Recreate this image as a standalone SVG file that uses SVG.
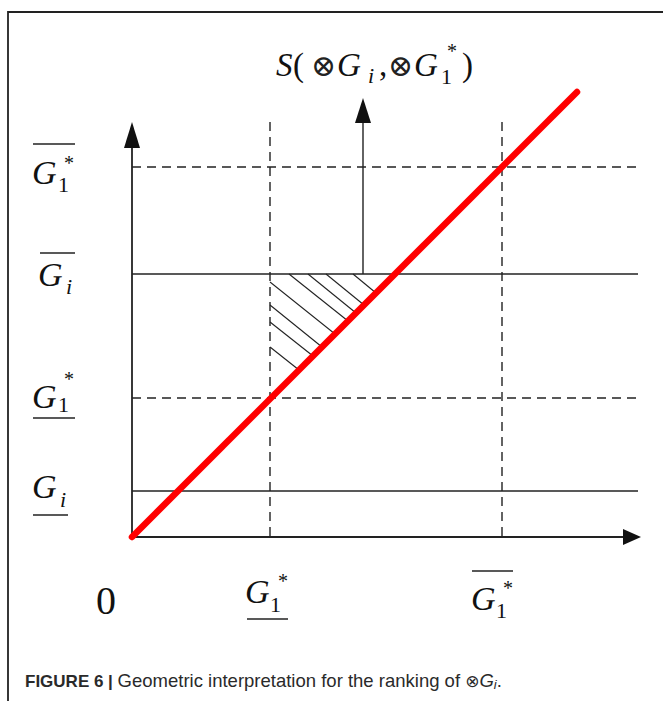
<svg xmlns="http://www.w3.org/2000/svg" width="663" height="701" viewBox="0 0 663 701">
<style>
.ln{stroke:#222;stroke-width:1.4;fill:none}
.ax{stroke:#222;stroke-width:1.8;fill:none}
.ds{stroke:#222;stroke-width:1.4;fill:none;stroke-dasharray:9 6}
.hl{stroke:#222;stroke-width:1.1;fill:none}
.ah{fill:#111;stroke:none}
.mt{font-family:"Liberation Serif","DejaVu Serif",serif;fill:#111}
.it{font-style:italic}
.op{font-family:"DejaVu Serif","Liberation Serif",serif;fill:#222}
.cap{font-family:"Liberation Sans",Arial,sans-serif;font-size:18.5px;fill:#2a2a2a}
</style>
<rect width="663" height="701" fill="#fff"/>
<g id="frame"><path d="M8,701 V12 H663" class="ax" stroke-width="1.6"/></g>
<g id="grid">
<line class="ds" x1="132" y1="167" x2="638" y2="167"/>
<line class="ln" x1="132" y1="274" x2="638" y2="274"/>
<line class="ds" x1="132" y1="398" x2="638" y2="398"/>
<line class="ln" x1="132" y1="491" x2="638" y2="491"/>
<line class="ds" x1="270" y1="122" x2="270" y2="537"/>
<line class="ds" x1="502" y1="122" x2="502" y2="537"/>
</g>
<g id="hatch">
<line class="hl" x1="270" y1="282" x2="335" y2="334"/>
<line class="hl" x1="270" y1="305" x2="322" y2="347"/>
<line class="hl" x1="270" y1="322" x2="313" y2="356"/>
<line class="hl" x1="270" y1="347" x2="299" y2="370"/>
<line class="hl" x1="289" y1="274" x2="348" y2="321"/>
<line class="hl" x1="308" y1="274" x2="356" y2="313"/>
<line class="hl" x1="326" y1="274" x2="364" y2="305"/>
<line class="hl" x1="353" y1="274" x2="376" y2="293"/>
</g>
<g id="axes">
<line class="ax" x1="132" y1="537" x2="132" y2="146"/>
<polygon class="ah" points="132,122 124,148 140,148"/>
<line class="ax" x1="132" y1="537" x2="625" y2="537"/>
<polygon class="ah" points="641,537 623,529 623,545"/>
</g>
<g id="connectors">
<line class="ln" x1="363" y1="274" x2="363" y2="120"/>
<polygon class="ah" points="363,98 355,123 371,123"/>
</g>
<g id="red-line"><line x1="132" y1="537" x2="577" y2="92" stroke="#f00" stroke-width="6.5" stroke-linecap="round"/></g>
<g id="title">
<text class="mt" y="76" font-size="33"><tspan x="276" class="it">S</tspan><tspan x="293">(</tspan><tspan x="311" y="76" class="op" font-size="30">⊗</tspan><tspan x="337" y="76" class="it">G</tspan><tspan x="368" y="83" font-size="22" class="it">i</tspan><tspan x="379" y="76">,</tspan><tspan x="388" y="76" class="op" font-size="30">⊗</tspan><tspan x="414" y="76" class="it">G</tspan><tspan x="441" y="84" font-size="22">1</tspan><tspan x="447" y="58" font-size="20">*</tspan><tspan x="462" y="76">)</tspan></text>
</g>
<g id="label-G1star-upper">
<line class="ln" x1="33" y1="144" x2="75" y2="144"/>
<text class="mt" y="184" font-size="34"><tspan x="32" class="it">G</tspan><tspan x="58" y="192" font-size="22">1</tspan><tspan x="64" y="170" font-size="20">*</tspan></text>
</g>
<g id="label-Gi-upper">
<line class="ln" x1="40" y1="253" x2="75" y2="253"/>
<text class="mt" y="286" font-size="34"><tspan x="38" class="it">G</tspan><tspan x="66" y="294" font-size="22" class="it">i</tspan></text>
</g>
<g id="label-G1star-lower">
<text class="mt" y="408" font-size="34"><tspan x="32" class="it">G</tspan><tspan x="58" y="412" font-size="22">1</tspan><tspan x="64" y="386" font-size="20">*</tspan></text>
<line class="ln" x1="33" y1="418" x2="75" y2="418"/>
</g>
<g id="label-Gi-lower">
<text class="mt" y="498" font-size="34"><tspan x="32" class="it">G</tspan><tspan x="60" y="507" font-size="22" class="it">i</tspan></text>
<line class="ln" x1="33" y1="515" x2="68" y2="515"/>
</g>
<g id="label-zero"><text class="mt" x="96" y="614" font-size="40">0</text></g>
<g id="label-G1star-x-lower">
<text class="mt" y="603" font-size="34"><tspan x="245" class="it">G</tspan><tspan x="270" y="612" font-size="22">1</tspan><tspan x="278" y="588" font-size="20">*</tspan></text>
<line class="ln" x1="247" y1="619" x2="288" y2="619"/>
</g>
<g id="label-G1star-x-upper">
<line class="ln" x1="472" y1="571" x2="513" y2="571"/>
<text class="mt" y="610" font-size="34"><tspan x="471" class="it">G</tspan><tspan x="496" y="618" font-size="22">1</tspan><tspan x="503" y="595" font-size="20">*</tspan></text>
</g>
<g id="caption">
<text class="cap" x="25" y="687"><tspan font-weight="bold" font-size="17">FIGURE 6 | </tspan>Geometric interpretation for the ranking of <tspan font-family="DejaVu Sans,sans-serif" font-size="17">⊗</tspan><tspan font-style="italic">G</tspan><tspan font-style="italic" font-size="13" dy="2">i</tspan><tspan dy="-2">.</tspan></text>
</g>
</svg>
